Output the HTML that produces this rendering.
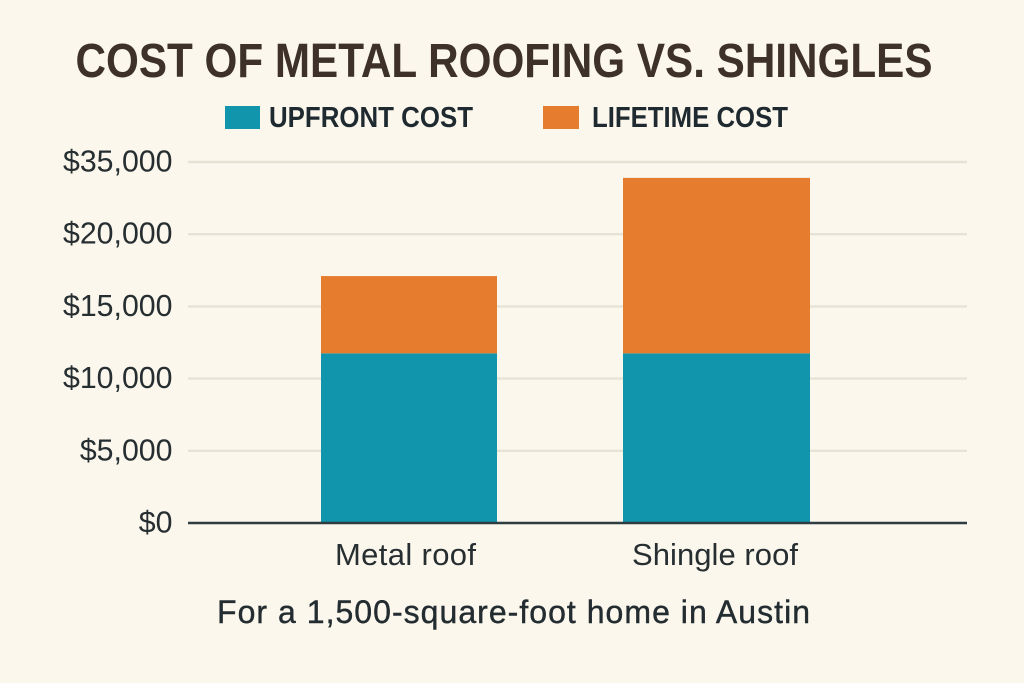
<!DOCTYPE html>
<html lang="en">
<head>
<meta charset="utf-8">
<title>Cost of Metal Roofing vs. Shingles</title>
<style>
html,body{margin:0;padding:0;background:#fbf7ec;}
svg{display:block;}
text{font-family:"Liberation Sans",sans-serif;}
</style>
</head>
<body>
<svg id="chart" xmlns="http://www.w3.org/2000/svg" width="1024" height="683" viewBox="0 0 1024 683">
  <rect x="0" y="0" width="1024" height="683" fill="#fbf7ec"/>
  <text x="504" y="77" text-anchor="middle" font-size="48.5" font-weight="700" fill="#3d312a" textLength="857" lengthAdjust="spacingAndGlyphs">COST OF METAL ROOFING VS. SHINGLES</text>
  <g>
    <rect x="225" y="106" width="35" height="23" fill="#1195ad"/>
    <text x="269" y="127" font-size="29" font-weight="700" fill="#1f2a30" textLength="204" lengthAdjust="spacingAndGlyphs">UPFRONT COST</text>
    <rect x="543" y="106" width="36" height="23" fill="#e67c2e"/>
    <text x="592" y="127" font-size="29" font-weight="700" fill="#1f2a30" textLength="196" lengthAdjust="spacingAndGlyphs">LIFETIME COST</text>
  </g>
  <g id="grid"></g>
  <g id="yticks"></g>
  <g id="bars"></g>
  <line x1="188" y1="523" x2="967" y2="523" stroke="#2f3d42" stroke-width="2.6"/>
  <g id="xticks"></g>
  <text x="217" y="623" font-size="32" fill="#232c30" stroke="#232c30" stroke-width="0.4" textLength="593" lengthAdjust="spacing">For a 1,500-square-foot home in Austin</text>
</svg>
<script>
const categories = ["Metal roof", "Shingle roof"];
const upfrontCost = [11750, 11750];
const lifetimeCost = [5350, 12150];
const tickValues = [0, 5000, 10000, 15000, 20000, 25000];
const tickLabels = ["$0", "$5,000", "$10,000", "$15,000", "$20,000", "$35,000"];

const NS = "http://www.w3.org/2000/svg";
const y = v => 523 - (v / 25000) * 361;
const barLeft = [321, 623];
const barWidth = [176, 187];
const labelX = [335, 632];
const labelWidth = [141, 166];

function make(tag, attrs, parent, txt) {
  const el = document.createElementNS(NS, tag);
  for (const k in attrs) el.setAttribute(k, attrs[k]);
  if (txt !== undefined) el.textContent = txt;
  parent.appendChild(el);
  return el;
}

const grid = document.getElementById("grid");
const yticks = document.getElementById("yticks");
tickValues.forEach((v, i) => {
  if (v > 0) {
    const g = make("line", {x1: 188, x2: 967, y1: y(v), y2: y(v), stroke: "#e6e3d6", "stroke-width": 2.4}, grid);
    
    
  }
  const t = make("text", {x: 172.5, y: y(v) + 9.5, "text-anchor": "end", "font-size": 30.3, fill: "#262e31"}, yticks, tickLabels[i]);
  
  
});

const bars = document.getElementById("bars");
categories.forEach((c, i) => {
  const total = upfrontCost[i] + lifetimeCost[i];
  const a = make("rect", {x: barLeft[i], width: barWidth[i], y: y(upfrontCost[i]), height: y(0) - y(upfrontCost[i]), fill: "#1195ad"}, bars);
  
  
  const b = make("rect", {x: barLeft[i], width: barWidth[i], y: y(total), height: y(upfrontCost[i]) - y(total), fill: "#e67c2e"}, bars);
  
  
  const t = make("text", {x: labelX[i], y: 565, "font-size": 31, fill: "#262e31", textLength: labelWidth[i], lengthAdjust: "spacing"}, document.getElementById("xticks"), c);
  
  
});
</script>
</body>
</html>
